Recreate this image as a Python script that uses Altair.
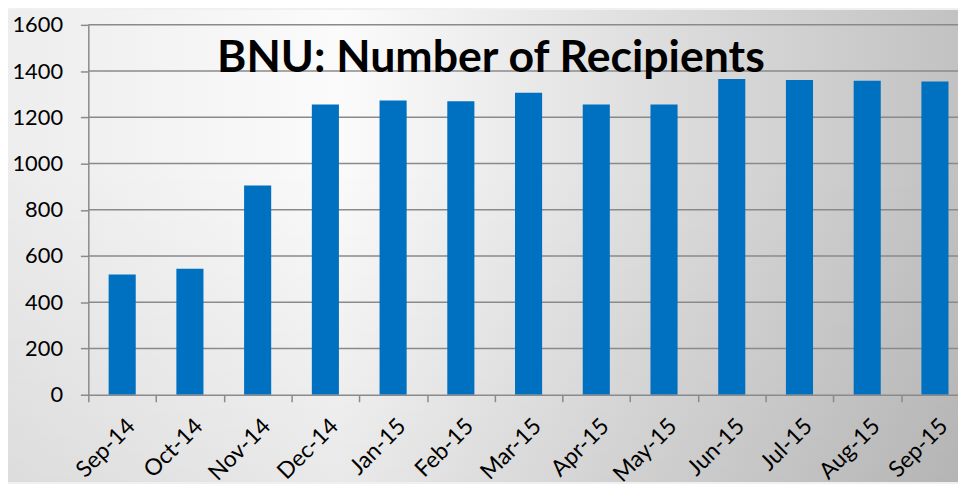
import altair as alt
import pandas as pd

# ---- data ----
months = ["Sep-14", "Oct-14", "Nov-14", "Dec-14", "Jan-15", "Feb-15", "Mar-15",
          "Apr-15", "May-15", "Jun-15", "Jul-15", "Aug-15", "Sep-15"]
recipients = [520, 545, 905, 1255, 1273, 1270, 1306, 1256, 1255, 1366, 1361, 1358, 1355]
y_ticks = [0, 200, 400, 600, 800, 1000, 1200, 1400, 1600]
grid_values = [200, 400, 600, 800, 1000, 1200, 1400, 1600]
title_text = ["BNU: Number of Recipients"]

# ---- layout / style ----
W, H = 877, 373
STEP = 68.3                      # pixel width of one month slot
PAD_L, PAD_T, PAD_B = 81, 15, 88
FONT = "Lato"
GRID = "#8a8a8a"
BAR = "#0070C0"

idx = list(range(len(months)))
df = pd.DataFrame({"idx": idx, "month": months, "n": recipients})

yscale = alt.Scale(domain=[0, 1600], nice=False, zero=True, padding=0)
xscale = alt.Scale(domain=[-0.5, W / STEP - 0.5], nice=False, zero=False, padding=0)

label_expr = "[" + ",".join("'%s'" % m for m in months) + "][datum.value]"

y_axis = alt.Axis(values=y_ticks, format="d", title=None, grid=False, tickSize=8,
                  tickColor=GRID, tickWidth=1.5, domainColor=GRID, domainWidth=1.5,
                  labelFont=FONT, labelFontSize=22, labelColor="black", labelPadding=18,
                  zindex=1)
x_axis = alt.Axis(values=idx, labelExpr=label_expr, title=None, labelAngle=-45,
                  labelAlign="right", labelBaseline="top", labelFont=FONT,
                  labelFontSize=23, labelColor="black", tickOffset=-STEP / 2,
                  labelOffset=STEP / 2 + 1, tickSize=7, tickColor=GRID, tickWidth=1.5,
                  domainColor=GRID, domainWidth=1.5, grid=False, labelPadding=13,
                  labelOverlap=False, labelFlush=False, zindex=1)

one = pd.DataFrame({"k": [0]})

bg = alt.Chart(one).mark_rect(
    fill=alt.Gradient(
        gradient="linear", x1=0, x2=1, y1=0, y2=0,
        stops=[alt.GradientStop(color="#ededed", offset=0),
               alt.GradientStop(color="#fbfbfb", offset=0.35),
               alt.GradientStop(color="#e3e3e3", offset=0.62),
               alt.GradientStop(color="#c2c2c2", offset=1)])
).encode(x=alt.value(-PAD_L), x2=alt.value(W), y=alt.value(-PAD_T), y2=alt.value(H + PAD_B))

shade = alt.Chart(one).mark_rect(
    fill=alt.Gradient(
        gradient="linear", x1=0, x2=0, y1=0, y2=1,
        stops=[alt.GradientStop(color="rgba(0,0,0,0)", offset=0.3),
               alt.GradientStop(color="rgba(0,0,0,0.07)", offset=1)])
).encode(x=alt.value(-PAD_L), x2=alt.value(W), y=alt.value(-PAD_T), y2=alt.value(H + PAD_B))

grid = alt.Chart(pd.DataFrame({"g": grid_values})).mark_rule(
    color=GRID, strokeWidth=1.5
).encode(y=alt.Y("g:Q", scale=yscale, axis=y_axis))

bars = alt.Chart(df).transform_calculate(
    lo="datum.idx - 0.2", hi="datum.idx + 0.2", base="0"
).mark_rect(color=BAR).encode(
    x=alt.X("lo:Q", scale=xscale, axis=x_axis),
    x2="hi:Q",
    y=alt.Y("n:Q", scale=yscale, axis=y_axis),
    y2="base:Q",
)

title = alt.Chart(pd.DataFrame({"t": title_text})).mark_text(
    font=FONT, fontSize=45, fontWeight="bold", align="center",
    baseline="alphabetic", color="black"
).encode(text="t:N", x=alt.value(406), y=alt.value(48))

chart = alt.layer(bg, shade, grid, bars, title).properties(
    width=W, height=H,
    autosize=alt.AutoSizeParams(type="none"),
    padding={"left": PAD_L, "top": PAD_T, "right": 0, "bottom": PAD_B},
    background="#f0f0f0",
).configure_view(stroke=None)

chart.save("out.html", embed_options={"renderer": "svg", "actions": False})
